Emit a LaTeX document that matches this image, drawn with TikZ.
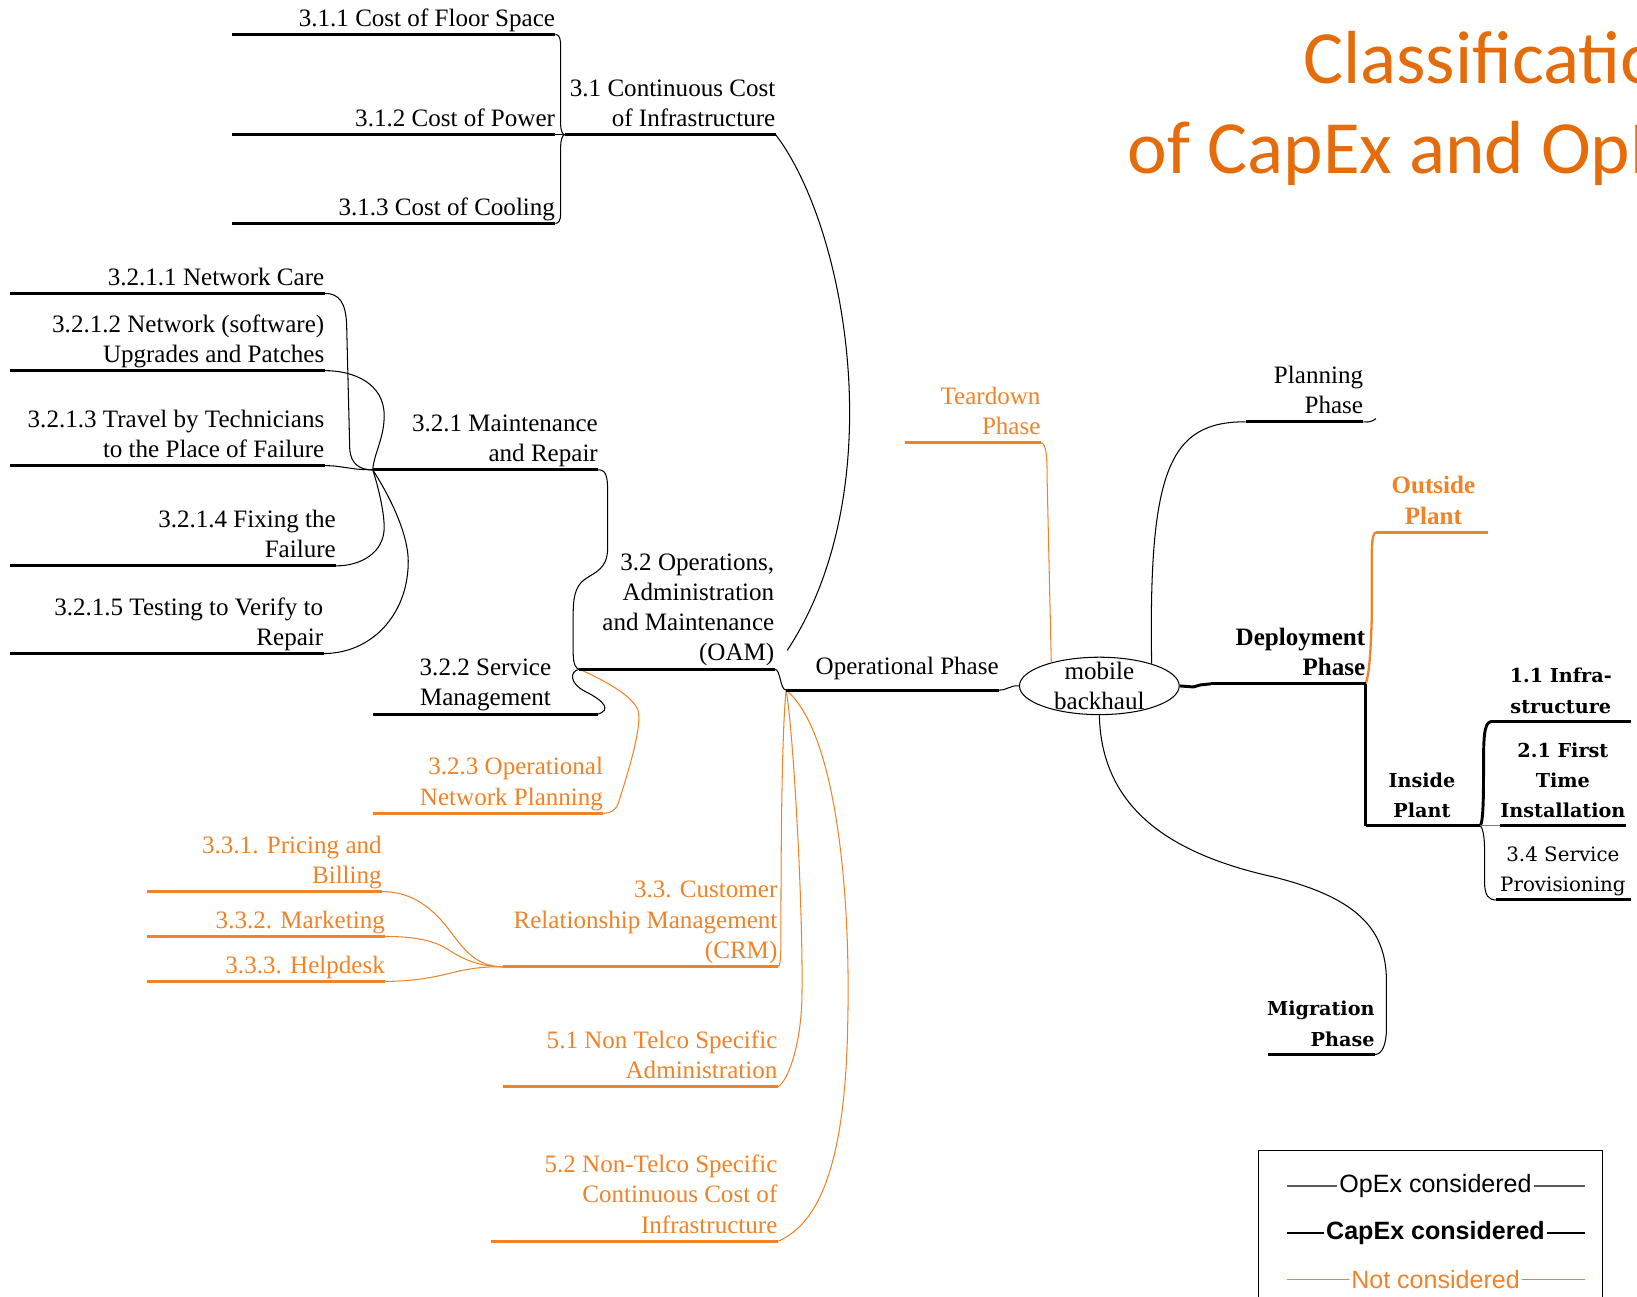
\documentclass[tikz,border=0pt]{standalone}
\usepackage{fontspec}
\setmainfont{Liberation Serif}
\newfontfamily\dvs{DejaVu Serif}
\newfontfamily\lsans{Liberation Sans}
\newfontfamily\carl{Carlito}
\usetikzlibrary{shapes.geometric}
\definecolor{og}{RGB}{240,130,40}
\definecolor{ttl}{RGB}{228,108,10}
\tikzset{
  ul/.style={line width=1.45pt},
  ulo/.style={line width=1.45pt, draw=og},
  conn/.style={line width=0.5pt},
  conno/.style={line width=0.5pt, draw=og},
  capconn/.style={line width=1.4pt},
  lbl/.style={anchor=south east, align=right, inner xsep=0pt, inner ysep=0pt, yshift=-0.6pt, font=\fontsize{12}{14.5}\selectfont},
  lblc/.style={anchor=south, align=center, inner xsep=0pt, inner ysep=0pt, yshift=-0.6pt, font=\fontsize{12}{14.5}\selectfont},
  dvb/.style={font=\dvs\bfseries\fontsize{9.2}{14.5}\selectfont},
  dvr/.style={font=\dvs\fontsize{9.5}{14.5}\selectfont},
  leg/.style={inner xsep=1pt, inner ysep=0pt, font=\lsans\fontsize{12}{14.5}\selectfont},
}
\begin{document}
\begin{tikzpicture}[x=0.5pt, y=-0.5pt]
\useasboundingbox (0,0) rectangle (1568,1242);
\clip (0,0) rectangle (1568,1242);

% ---------- coordinates of underlines ----------
\coordinate (f1L) at (222,33);   \coordinate (f1R) at (532,33);
\coordinate (f2L) at (222,129);  \coordinate (f2R) at (532,129);
\coordinate (f3L) at (222,214);  \coordinate (f3R) at (532,214);
\coordinate (c31L) at (541,129); \coordinate (c31R) at (743,129);
\coordinate (e31) at (754,623);
\coordinate (n1L) at (10,281);   \coordinate (n1R) at (311,281);
\coordinate (n2L) at (10,355);   \coordinate (n2R) at (311,355);
\coordinate (n3L) at (10,446);   \coordinate (n3R) at (311,446);
\coordinate (n4L) at (10,542);   \coordinate (n4R) at (322,542);
\coordinate (n5L) at (10,626);   \coordinate (n5R) at (310,626);
\coordinate (m1L) at (357,450);  \coordinate (m1R) at (573,450);
\coordinate (m2L) at (357,684);  \coordinate (m2R) at (573,684);
\coordinate (m3L) at (357,779);  \coordinate (m3R) at (578,779);
\coordinate (oamL) at (555,641); \coordinate (oamR) at (742,641);
\coordinate (opL) at (753,661);  \coordinate (opR) at (957,661);
\coordinate (c33L) at (482,926); \coordinate (c33R) at (745,926);
\coordinate (p1L) at (141,854);  \coordinate (p1R) at (366,854);
\coordinate (p2L) at (141,897);  \coordinate (p2R) at (369,897);
\coordinate (p3L) at (141,940);  \coordinate (p3R) at (369,940);
\coordinate (c51L) at (482,1041);\coordinate (c51R) at (745,1041);
\coordinate (c52L) at (470,1189);\coordinate (c52R) at (745,1189);
\coordinate (tdL) at (867,424);  \coordinate (tdR) at (997,424);
\coordinate (plL) at (1193,404); \coordinate (plR) at (1306,404);
\coordinate (plT) at (1318,401);
\coordinate (dpL) at (1160,655); \coordinate (dpR) at (1308,655);
\coordinate (osL) at (1318,510); \coordinate (osR) at (1425,510);
\coordinate (ipL) at (1308,791); \coordinate (ipR) at (1418,791);
\coordinate (i1L) at (1430,691); \coordinate (i1R) at (1562,691);
\coordinate (i2L) at (1437,791); \coordinate (i2R) at (1557,791);
\coordinate (i3L) at (1433,862); \coordinate (i3R) at (1562,862);
\coordinate (mgL) at (1215,1010);\coordinate (mgR) at (1317,1010);

% ---------- central node ----------
\node[draw, ellipse, minimum width=76.5pt, minimum height=27.5pt, inner sep=0pt, line width=0.5pt] (C) at (1053,657) {};
\node[align=center, inner sep=0pt, font=\fontsize{12}{14.5}\selectfont] (Ct) at (1053,657) {mobile\\backhaul};

% ---------- connectors ----------
% 3.1 children
\draw[conn] (f1R) .. controls (536,33) and (537,37) .. (537,45) -- (537,118) .. controls (537,126) and (539,129) .. (c31L);
\draw[conn] (f2R) -- (c31L);
\draw[conn] (c31L) .. controls (539,129) and (537,133) .. (537,142) -- (537,205) .. controls (537,211) and (535,214) .. (f3R);
\draw[conn] (c31R) .. controls (812,220) and (855,470) .. (e31);
% OAM children
\draw[conn] (m1R) .. controls (580,450) and (582,455) .. (582,470) -- (582,525) .. controls (582,545) and (570,548) .. (560,555) .. controls (550,562) and (549,575) .. (549,590) -- (549,625) .. controls (549,637) and (552,641) .. (oamL);
\draw[conn] (oamL) .. controls (545,643) and (546,655) .. (560,662) .. controls (580,672) and (585,680) .. (m2R);
\draw[conno] (oamL) .. controls (575,650) and (605,665) .. (611,680) .. controls (616,695) and (600,745) .. (592,770) .. controls (589,777) and (584,779) .. (m3R);
\draw[conn] (oamR) .. controls (748,641) and (747,661) .. (opL);
% 3.2.1 children
\draw[conn] (n1R) .. controls (325,281) and (331,290) .. (332,310) -- (335,430) .. controls (336,445) and (345,450) .. (m1L);
\draw[conn] (n2R) .. controls (340,355) and (368,368) .. (368,398) .. controls (368,420) and (358,435) .. (m1L);
\draw[conn] (n3R) .. controls (328,446) and (335,450) .. (m1L);
\draw[conn] (m1L) .. controls (362,465) and (368,490) .. (368,505) .. controls (368,530) and (345,542) .. (n4R);
\draw[conn] (m1L) .. controls (370,470) and (392,510) .. (391,540) .. controls (390,590) and (355,626) .. (n5R);
% operational phase children (not considered)
\draw[conno] (opL) .. controls (749,700) and (748,800) .. (748,900) .. controls (748,920) and (747,926) .. (c33R);
\draw[conno] (opL) .. controls (760,700) and (770,880) .. (768,960) .. controls (766,1010) and (752,1038) .. (c51R);
\draw[conno] (opL) .. controls (800,700) and (815,850) .. (812,980) .. controls (810,1100) and (790,1170) .. (c52R);
% 3.3 children
\draw[conno] (p1R) .. controls (395,854) and (415,870) .. (432,893) .. controls (448,915) and (460,926) .. (c33L);
\draw[conno] (p2R) .. controls (395,897) and (415,900) .. (430,910) .. controls (448,922) and (465,926) .. (c33L);
\draw[conno] (p3R) .. controls (400,940) and (420,935) .. (440,930) .. controls (460,926) and (470,926) .. (c33L);
% centre
\draw[conn] (opR) .. controls (965,661) and (968,656) .. (C.west);
\draw[conno] (tdR) .. controls (1002,425) and (1003,435) .. (1003,460) -- (C.154);
\draw[conn] (C.23) .. controls (1100,450) and (1120,404) .. (plL);
\draw[conn] (plR) .. controls (1312,405) and (1315,403) .. (plT);
\draw[capconn] (C.east) -- (1143,658) -- (1150,656) -- (dpL);
\draw[line width=1.1pt, draw=og] (dpR) .. controls (1312,645) and (1313,620) .. (1314,590) -- (1314,530) .. controls (1314,514) and (1316,510) .. (osL);
\draw[capconn] (dpR) -- (ipL);
\draw[capconn] (ipR) .. controls (1421,785) and (1421,760) .. (1421,730) .. controls (1421,697) and (1423,691) .. (i1L);
\draw[conn, draw=gray] (ipR) -- (i2L);
\draw[conn] (ipR) .. controls (1420,793) and (1422,800) .. (1422,815) -- (1422,845) .. controls (1422,858) and (1426,862) .. (i3L);
\draw[conn] (C.south) .. controls (1055,780) and (1130,820) .. (1220,840) .. controls (1300,860) and (1328,890) .. (1328,940) -- (1328,985) .. controls (1328,1000) and (1324,1010) .. (mgR);

% ---------- underlines ----------
\foreach \a in {f1,f2,f3,c31,n1,n2,n3,n4,n5,m1,m2,oam,op,pl,dp,ip,i1,i2,i3,mg}
  \draw[ul] (\a L) -- (\a R);
\foreach \a in {m3,c33,p1,p2,p3,c51,c52,td,os}
  \draw[ulo] (\a L) -- (\a R);

% ---------- labels ----------
\node[lbl] (tf1) at (f1R) {3.1.1 Cost of Floor Space\strut};
\node[lbl] (tf2) at (f2R) {3.1.2 Cost of Power\strut};
\node[lbl] (tf3) at (f3R) {3.1.3 Cost of Cooling\strut};
\node[lbl] (tc31) at (c31R) {3.1 Continuous Cost\\of Infrastructure\strut};
\node[lbl] (tn1) at (n1R) {3.2.1.1 Network Care\strut};
\node[lbl] (tn2) at (n2R) {3.2.1.2 Network (software)\\Upgrades and Patches\strut};
\node[lbl] (tn3) at (n3R) {3.2.1.3 Travel by Technicians\\to the Place of Failure\strut};
\node[lbl] (tn4) at (n4R) {3.2.1.4 Fixing the\\Failure\strut};
\node[lbl] (tn5) at (n5R) {3.2.1.5 Testing to Verify to\\Repair\strut};
\node[lbl] (tm1) at (m1R) {3.2.1 Maintenance\\and Repair\strut};
\node[lblc] (tm2) at (465,684) {3.2.2 Service\\Management\strut};
\node[lbl, text=og] (tm3) at (m3R) {3.2.3 Operational\\Network Planning\strut};
\node[lbl] (toam) at (oamR) {3.2 Operations,\\Administration\\and Maintenance\\(OAM)\strut};
\node[lbl, yshift=3.5pt] (top) at (opR) {Operational Phase\strut};
\node[lbl, text=og] (tc33) at (c33R) {3.3. Customer\\Relationship Management\\(CRM)\strut};
\node[lbl, text=og] (tp1) at (p1R) {3.3.1. Pricing and\\Billing\strut};
\node[lbl, text=og] (tp2) at (p2R) {3.3.2. Marketing\strut};
\node[lbl, text=og] (tp3) at (p3R) {3.3.3. Helpdesk\strut};
\node[lbl, text=og] (tc51) at (c51R) {5.1 Non Telco Specific\\Administration\strut};
\node[lbl, text=og] (tc52) at (c52R) {5.2 Non-Telco Specific\\Continuous Cost of\\Infrastructure\strut};
\node[lbl, text=og] (ttd) at (tdR) {Teardown\\Phase\strut};
\node[lbl] (tpl) at (plR) {Planning\\Phase\strut};
\node[lbl, font=\bfseries\fontsize{12}{14.5}\selectfont] (tdp) at (dpR) {Deployment\\Phase\strut};
\node[lblc, text=og, font=\bfseries\fontsize{12}{14.5}\selectfont] (tos) at (1373,510) {Outside\\Plant\strut};
\node[lblc, dvb] (tip) at (1362,791) {Inside\\Plant\strut};
\node[lbl, dvb] (tmg) at (mgR) {Migration\\Phase\strut};
\node[lblc, dvb] (ti1) at (1495,691) {1.1 Infra-\\structure\strut};
\node[lblc, dvb] (ti2) at (1497,791) {2.1 First\\Time\\Installation\strut};
\node[lblc, dvr] (ti3) at (1497,862) {3.4 Service\\Provisioning\strut};

% ---------- title ----------
\node[anchor=south west, inner sep=0pt, align=right, text=ttl, font=\carl\fontsize{36}{43.5}\selectfont] (title) at (1080,193) {Classification\\of CapEx and OpEx\strut};

% ---------- legend ----------
\draw[line width=0.5pt] (1205,1102) rectangle (1535,1290);
\node[leg] (lg1) at (1375,1136) {OpEx considered};
\node[leg, font=\lsans\bfseries\fontsize{12}{14.5}\selectfont] (lg2) at (1375,1181) {CapEx considered};
\node[leg, text=og] (lg3) at (1375,1226) {Not considered};
\coordinate (lg1a) at (1233,1136); \coordinate (lg1b) at (1518,1136);
\coordinate (lg2a) at (1233,1181); \coordinate (lg2b) at (1518,1181);
\coordinate (lg3a) at (1233,1226); \coordinate (lg3b) at (1518,1226);
\draw[line width=0.5pt, draw=black!65] (lg1a) -- (lg1.west) (lg1.east) -- (lg1b);
\draw[line width=1.4pt] (lg2a) -- (lg2.west) (lg2.east) -- (lg2b);
\draw[line width=0.5pt, draw=og] (lg3a) -- (lg3.west) (lg3.east) -- (lg3b);
\end{tikzpicture}
\end{document}
